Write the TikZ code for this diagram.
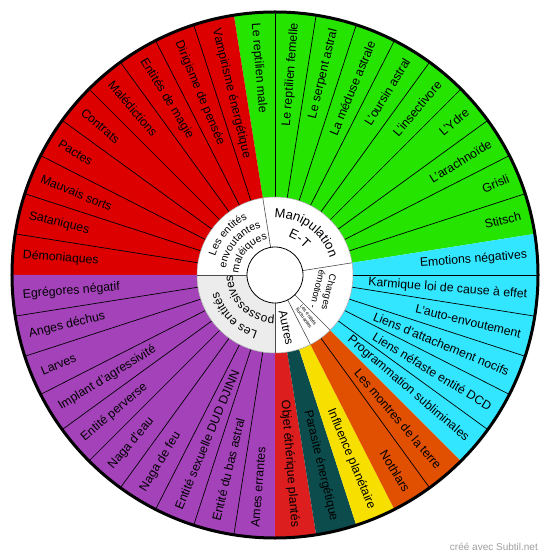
\documentclass[tikz,border=0pt]{standalone}
\usepackage{fontspec}
\setmainfont{Liberation Sans}
\usetikzlibrary{decorations.text}
\definecolor{cRed}{RGB}{221,0,0}
\definecolor{cGreen}{RGB}{36,228,0}
\definecolor{cCyan}{RGB}{51,230,255}
\definecolor{cOrange}{RGB}{224,80,0}
\definecolor{cYellow}{RGB}{247,224,0}
\definecolor{cTeal}{RGB}{12,76,76}
\definecolor{cRedB}{RGB}{221,30,30}
\definecolor{cPurple}{RGB}{164,66,186}
\definecolor{cGrey}{RGB}{236,236,236}
\newcommand\mysector[3]{\fill[#3] (#1:78) arc[start angle=#1,end angle=#2,radius=78] -- (#2:263) arc[start angle=#2,end angle=#1,radius=263] -- cycle;}
\newcommand\myarctext[4]{\path[decorate,decoration={text along path,text align=center,text={|\fontsize{#3}{#3}\selectfont|#4}}] ({#1+60}:#2) arc[start angle={#1+60},end angle={#1-60},radius=#2];}
\begin{document}
\begin{tikzpicture}[x=1pt,y=1pt,
  lbl/.style={inner sep=0pt,font=\fontsize{12.3}{14}\selectfont},
  sepline/.style={black,line width=0.7pt},
  isep/.style={gray!60!black,line width=0.6pt}]
\useasboundingbox (-275,-284) rectangle (275,275);
\fill[white] (-275,-284) rectangle (275,275);
% outer sectors
\mysector{9}{99}{cGreen}
\mysector{99}{180}{cRed}
\mysector{180}{270}{cPurple}
\mysector{-90}{-81}{cRedB}
\mysector{-81}{-72}{cTeal}
\mysector{-72}{-63}{cYellow}
\mysector{-63}{-45}{cOrange}
\mysector{-45}{9}{cCyan}
\foreach \a in {18,27,36,45,54,63,72,81,90,108,117,126,135,144,153,162,171,189,198,207,216,225,234,243,252,261,-54,-36,-27,-18,-9,0}
  \draw[sepline] (\a:78) -- (\a:263);
% inner ring
\fill[white] (0,0) circle (78);
\fill[cGrey] (180:28) arc[start angle=180,end angle=270,radius=28] -- (270:78) arc[start angle=270,end angle=180,radius=78] -- cycle;
\draw[gray!70,line width=0.5pt] (0,0) circle (78);
\foreach \a in {9,99,180,270,-45,-63}
  \draw[isep] (\a:28) -- (\a:78);
\draw[black,line width=0.8pt,fill=white] (0,0) circle (28);
\draw[black,line width=3pt] (0,0) circle (263);
% outer labels, right half
\foreach \m/\t [count=\i] in {85.5/Le reptilien femelle,76.5/Le serpent astral,67.5/La méduse astrale,58.5/L'oursin astral,49.5/L'insectivore,40.5/L'Ydre,31.5/L'arachnoïde,22.5/Grisli,13.5/Stitsch,4.5/Emotions négatives,-4.5/Karmique loi de cause à effet,-13.5/L'auto-envoutement,-22.5/Liens d'attachement nocifs,-31.5/Liens néfaste entité DCD,-40.5/Programmation subliminales,-49.5/Les montres de la terre,-58.5/Nothlars,-67.5/Influence planétaire,-76.5/Parasite énergétique,-85.5/Objet éthérique plantés}
  \node[lbl,rotate=\m,anchor=east] (R\i) at (\m:253) {\t};
% outer labels, left half
\foreach \m/\t [count=\i] in {94.5/Le reptilien male,103.5/Vampirisme énergétique,112.5/Dirigisme de pensée,121.5/Entités de magie,130.5/Malédictions,139.5/Contrats,148.5/Pactes,157.5/Mauvais sorts,166.5/Sataniques,175.5/Démoniaques,184.5/Egrégores négatif,193.5/Anges déchus,202.5/Larves,211.5/Implant d'agressivité,220.5/Entité perverse,229.5/Naga d'eau,238.5/Naga de feu,247.5/Entité sexuelle DUD DJINN,256.5/Entité du bas astral,265.5/Ames errantes}
  \node[lbl,rotate=\m-180,anchor=west] (L\i) at (\m:253) {\t};
% inner labels
\myarctext{139.5}{62.5}{10.5}{Les entités}
\myarctext{139.5}{49.5}{10.5}{envoutantes}
\myarctext{139.5}{36.5}{10.5}{maléiques}
\myarctext{54}{57.5}{13}{Manipulation}
\myarctext{56}{40}{13}{E-T}
\myarctext{225}{59}{12}{Les entités}
\myarctext{225}{42}{12}{possessives}
\node[inner sep=0pt,font=\fontsize{9.5}{11.5}\selectfont,rotate=-104,align=center] (charges) at (-18:51) {Charges\\émotion -};
\node[inner sep=0pt,font=\fontsize{12}{14}\selectfont,rotate=-78] (autres) at (-78:54) {Autres};
\node[inner sep=0pt,font=\fontsize{5}{5.5}\selectfont,rotate=-54,align=center] (fluct) at (-53:52) {Les entités\\fluctuantes};
\node[inner sep=0pt,anchor=east,text=gray!75,font=\fontsize{10}{12}\selectfont] (credit) at (263,-272) {créé avec Subtil.net};
\end{tikzpicture}
\end{document}
